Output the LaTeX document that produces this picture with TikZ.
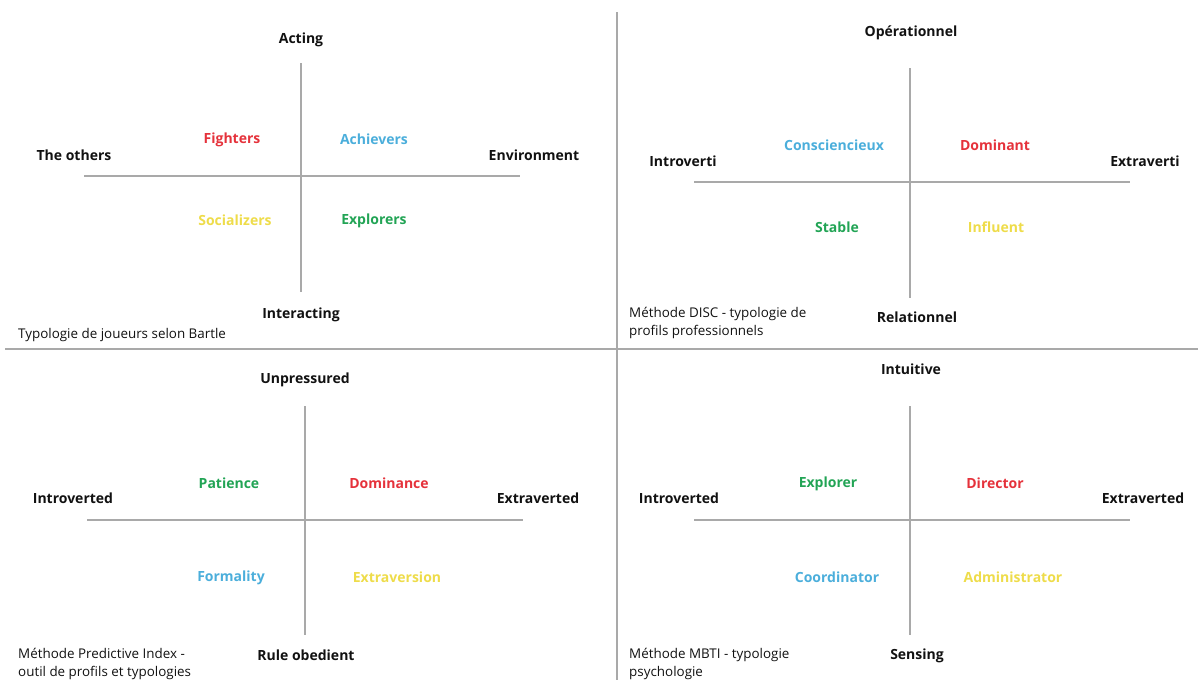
\documentclass[tikz,border=0pt]{standalone}
\usepackage{fontspec}
\setmainfont{Open Sans}
\definecolor{axisgray}{HTML}{A9A9A9}
\definecolor{qred}{HTML}{E5323B}
\definecolor{qblue}{HTML}{4BAEDB}
\definecolor{qyellow}{HTML}{EEDC4A}
\definecolor{qgreen}{HTML}{22A455}
\definecolor{qblack}{HTML}{111111}
\tikzset{
  axisline/.style={draw=axisgray, line width=2.8pt},
  divider/.style={draw=axisgray, line width=2.8pt},
  pole/.style={font=\bfseries\fontsize{14}{16}\selectfont, text=qblack, inner sep=0pt, yshift=-1.5pt},
  kind/.style={font=\bfseries\fontsize{14}{16}\selectfont, inner sep=0pt, yshift=-1.5pt},
  caption/.style={font=\fontsize{13.4}{16}\selectfont, text=qblack, anchor=base west, inner sep=0pt},
}
\begin{document}
\begin{tikzpicture}[x=1pt,y=-1pt]
\useasboundingbox (0,0) rectangle (1198,680);
% dividers
\coordinate (dvT) at (617,12);
\coordinate (dvB) at (617,680);
\coordinate (dhL) at (5,349);
\coordinate (dhR) at (1198,349);
\draw[divider] (dvT) -- (dvB);
\draw[divider] (dhL) -- (dhR);

% ---------- Quadrant 1: Bartle ----------
\coordinate (aT) at (301,63);
\coordinate (aB) at (301,292);
\coordinate (aL) at (84,176);
\coordinate (aR) at (520,176);
\draw[axisline] (aT) -- (aB);
\draw[axisline] (aL) -- (aR);
\node[pole] (acting) at (301,38) {Acting};
\node[pole] (interacting) at (301,313) {Interacting};
\node[pole] (others) at (74,154) {The others};
\node[pole] (environment) at (534,154) {Environment};
\node[kind, text=qred] (fighters) at (232,138) {Fighters};
\node[kind, text=qblue] (achievers) at (374,138) {Achievers};
\node[kind, text=qyellow] (socializers) at (235,219) {Socializers};
\node[kind, text=qgreen] (explorers) at (374,219) {Explorers};
\node[caption] (cap1) at (18,338) {Typologie de joueurs selon Bartle};

% ---------- Quadrant 2: DISC ----------
\coordinate (bT) at (910,68);
\coordinate (bB) at (910,298);
\coordinate (bL) at (694,182);
\coordinate (bR) at (1130,182);
\draw[axisline] (bT) -- (bB);
\draw[axisline] (bL) -- (bR);
\node[pole] (operationnel) at (911,31) {Opérationnel};
\node[pole] (relationnel) at (917,316) {Relationnel};
\node[pole] (introverti) at (683,160) {Introverti};
\node[pole] (extraverti) at (1145,160) {Extraverti};
\node[kind, text=qblue] (consc) at (834,144) {Consciencieux};
\node[kind, text=qred] (dominant) at (995,144) {Dominant};
\node[kind, text=qgreen] (stable) at (837,226) {Stable};
\node[kind, text=qyellow] (influent) at (996,226) {Influent};
\node[caption] (cap2a) at (629,317) {Méthode DISC - typologie de};
\node[caption] (cap2b) at (629,335) {profils professionnels};

% ---------- Quadrant 3: Predictive Index ----------
\coordinate (cT) at (305,406);
\coordinate (cB) at (305,635);
\coordinate (cL) at (87,520);
\coordinate (cR) at (523,520);
\draw[axisline] (cT) -- (cB);
\draw[axisline] (cL) -- (cR);
\node[pole] (unpressured) at (305,378) {Unpressured};
\node[pole] (rule) at (306,654) {Rule obedient};
\node[pole] (introverted1) at (73,497) {Introverted};
\node[pole] (extraverted1) at (538,497) {Extraverted};
\node[kind, text=qgreen] (patience) at (229,482) {Patience};
\node[kind, text=qred] (dominance) at (389,482) {Dominance};
\node[kind, text=qblue] (formality) at (231,576) {Formality};
\node[kind, text=qyellow] (extraversion) at (397,576) {Extraversion};
\node[caption] (cap3a) at (18,658) {Méthode Predictive Index -};
\node[caption] (cap3b) at (18,676) {outil de profils et typologies};

% ---------- Quadrant 4: MBTI ----------
\coordinate (dT) at (910,406);
\coordinate (dB) at (910,635);
\coordinate (dL) at (694,520);
\coordinate (dR) at (1130,520);
\draw[axisline] (dT) -- (dB);
\draw[axisline] (dL) -- (dR);
\node[pole] (intuitive) at (911,368) {Intuitive};
\node[pole] (sensing) at (917,654) {Sensing};
\node[pole] (introverted2) at (679,497) {Introverted};
\node[pole] (extraverted2) at (1143,497) {Extraverted};
\node[kind, text=qgreen] (explorer) at (828,482) {Explorer};
\node[kind, text=qred] (director) at (995,482) {Director};
\node[kind, text=qblue] (coordinator) at (837,576) {Coordinator};
\node[kind, text=qyellow] (administrator) at (1013,576) {Administrator};
\node[caption] (cap4a) at (629,658) {Méthode MBTI - typologie};
\node[caption] (cap4b) at (629,676) {psychologie};
\end{tikzpicture}
\end{document}
